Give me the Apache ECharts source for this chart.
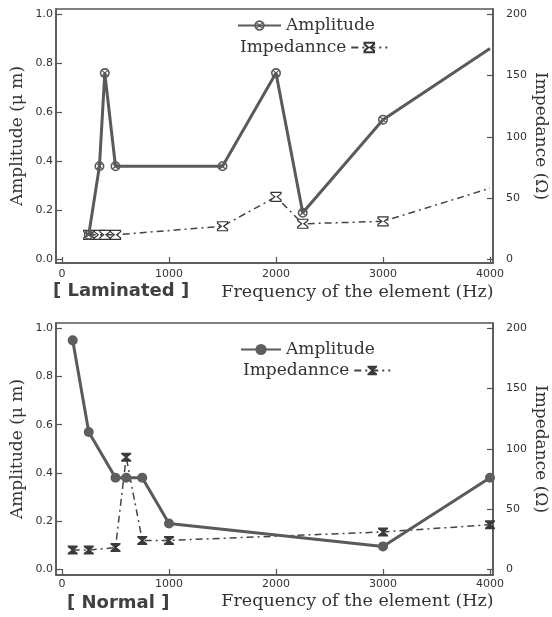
<!DOCTYPE html>
<html><head><meta charset="utf-8">
<script src="https://cdn.jsdelivr.net/npm/echarts@6/dist/echarts.min.js"></script>
<style>html,body{margin:0;padding:0;background:#fff}#c{width:552px;height:617px}</style>
</head><body><div id="c"></div>
<script>
// ---- data ----
const freqTicks = [0, 1000, 2000, 3000, 4000];
const ampTicks = [0, 0.2, 0.4, 0.6, 0.8, 1.0];
const impTicks = [0, 50, 100, 150, 200];

const lamFreq = [250, 350, 400, 500, 1500, 2000, 2250, 3000, 4000];
const lamAmp  = [0.10, 0.38, 0.76, 0.38, 0.38, 0.76, 0.19, 0.57, 0.86];
const lamImp  = [20, 20, 20, 20, 27, 51, 29, 31, 58];

const norFreq = [100, 250, 500, 600, 750, 1000, 3000, 4000];
const norAmp  = [0.95, 0.57, 0.38, 0.38, 0.38, 0.19, 0.095, 0.38];
const norImp  = [16, 16, 18, 93, 24, 24, 31, 37];

const legendNames = {AmpL: 'Amplitude', ImpL: 'Impedannce', AmpN: 'Amplitude', ImpN: 'Impedannce'};

// ---- styles ----
const serif = 'DejaVu Serif';
const sans = 'DejaVu Sans';
const axisCol = '#555';
const txtCol = '#333';
const circX = 'path://M20,10 A10,10 0 1,1 0,10 A10,10 0 1,1 20,10 Z M16.8,10 A6.8,6.8 0 1,0 3.2,10 A6.8,6.8 0 1,0 16.8,10 Z M5.3,3.6 L16.4,14.7 L14.7,16.4 L3.6,5.3 Z M14.7,3.6 L16.4,5.3 L5.3,16.4 L3.6,14.7 Z';
const hourglass = 'path://M0,0 L12,0 L12,2 L7.4,6 L12,10 L12,12 L0,12 L0,10 L4.6,6 L0,2 Z';

function pairs(xs, ys, hideLast) {
  return xs.map((x, i) => {
    const d = {value: [x, ys[i]]};
    if (hideLast && i === xs.length - 1) d.symbol = 'none';
    return d;
  });
}

function xAx(gi, gap) {
  return {
    type: 'value', gridIndex: gi, min: -56, max: 4028,
    axisLine: {show: true, onZero: false, lineStyle: {color: axisCol, width: 1.5}},
    axisTick: {show: true, inside: true, length: 6, customValues: freqTicks, lineStyle: {color: axisCol, width: 1.2}},
    axisLabel: {customValues: freqTicks, formatter: v => String(v), fontFamily: sans, fontSize: 11, color: txtCol, margin: gi === 0 ? 6 : 4},
    splitLine: {show: false},
    name: 'Frequency of the element (Hz)', nameLocation: 'middle', nameGap: gap, nameMoveOverlap: false,
    nameTextStyle: {fontFamily: serif, fontSize: 17.5, color: txtCol, padding: [0, 0, 0, 166]}
  };
}
function yLeft(gi, mn, mx) {
  return {
    type: 'value', gridIndex: gi, position: 'left', min: mn, max: mx,
    axisLine: {show: true, onZero: false, lineStyle: {color: axisCol, width: 1.5}},
    axisTick: {show: true, inside: true, length: 6, customValues: ampTicks, lineStyle: {color: axisCol, width: 1.2}},
    axisLabel: {customValues: ampTicks, formatter: v => v.toFixed(1), fontFamily: sans, fontSize: 11, color: txtCol, margin: 3},
    splitLine: {show: false},
    name: 'Amplitude (μ m)', nameLocation: 'middle', nameGap: 30, nameRotate: 90, nameMoveOverlap: false,
    nameTextStyle: {fontFamily: serif, fontSize: 17, color: txtCol}
  };
}
function yRight(gi, mn, mx) {
  return {
    type: 'value', gridIndex: gi, position: 'right', min: mn, max: mx,
    axisLine: {show: true, onZero: false, lineStyle: {color: axisCol, width: 1.5}},
    axisTick: {show: true, inside: true, length: 6, customValues: impTicks, lineStyle: {color: axisCol, width: 1.2}},
    axisLabel: {customValues: impTicks, formatter: v => String(v), fontFamily: sans, fontSize: 11, color: txtCol, margin: 13},
    splitLine: {show: false},
    name: 'Impedance (Ω)', nameLocation: 'middle', nameGap: 39, nameRotate: -90, nameMoveOverlap: false,
    nameTextStyle: {fontFamily: serif, fontSize: 17, color: txtCol}
  };
}
function legend(name, left, top, align, w, h) {
  return {
    data: [name], left: left, top: top, align: align, orient: 'horizontal',
    padding: 0, itemWidth: w, itemHeight: h, selectedMode: false,
    formatter: n => legendNames[n],
    textStyle: {fontFamily: serif, fontSize: 17, color: txtCol}
  };
}

const ampLine = {color: '#5a5a5a', width: 3};
const impLine = {color: '#444', width: 1.5, type: [7, 4, 2, 4]};

const option = {
  animation: false,
  backgroundColor: '#fff',
  grid: [
    {left: 56, top: 9, width: 437, height: 254, show: true, borderColor: axisCol, borderWidth: 1.5, outerBoundsMode: 'none', containLabel: false},
    {left: 56, top: 323, width: 437, height: 252, show: true, borderColor: axisCol, borderWidth: 1.5, outerBoundsMode: 'none', containLabel: false}
  ],
  xAxis: [xAx(0, 20), xAx(1, 17)],
  yAxis: [yLeft(0, -0.015, 1.0216), yRight(0, -3.0, 204.3), yLeft(1, -0.0237, 1.022), yRight(1, -4.73, 204.4)],
  legend: [
    legend('AmpL', 237, 17, 'left', 43, 13),
    legend('ImpL', 240, 39, 'right', 36, 12),
    legend('AmpN', 240, 341, 'left', 40, 14),
    legend('ImpN', 243, 362, 'right', 36, 12)
  ],
  graphic: [
    {type: 'text', left: 53, top: 282, style: {text: '[ Laminated ]', font: 'bold 18px "DejaVu Sans"', fill: '#404040'}},
    {type: 'text', left: 67, top: 594, style: {text: '[ Normal ]', font: 'bold 18px "DejaVu Sans"', fill: '#404040'}}
  ],
  series: [
    {type: 'line', name: 'AmpL', xAxisIndex: 0, yAxisIndex: 0, data: pairs(lamFreq, lamAmp, true),
     symbol: circX, symbolSize: 10, lineStyle: ampLine,
     itemStyle: {color: '#5a5a5a'}, z: 3},
    {type: 'line', name: 'ImpL', xAxisIndex: 0, yAxisIndex: 1, data: pairs(lamFreq, lamImp, true),
     symbol: hourglass, symbolSize: [10, 9], lineStyle: impLine,
     itemStyle: {color: '#fff', borderColor: '#333', borderWidth: 1.2}, z: 2},
    {type: 'line', name: 'AmpN', xAxisIndex: 1, yAxisIndex: 2, data: pairs(norFreq, norAmp, false),
     symbol: 'circle', symbolSize: 10, lineStyle: ampLine,
     itemStyle: {color: '#5e5e5e'}, z: 3},
    {type: 'line', name: 'ImpN', xAxisIndex: 1, yAxisIndex: 3, data: pairs(norFreq, norImp, false),
     symbol: hourglass, symbolSize: [10, 9], lineStyle: impLine,
     itemStyle: {color: '#3a3a3a'}, z: 2}
  ]
};

const chart = echarts.init(document.getElementById('c'), null, {renderer: 'canvas'});
chart.setOption(option);
</script>
</body></html>
